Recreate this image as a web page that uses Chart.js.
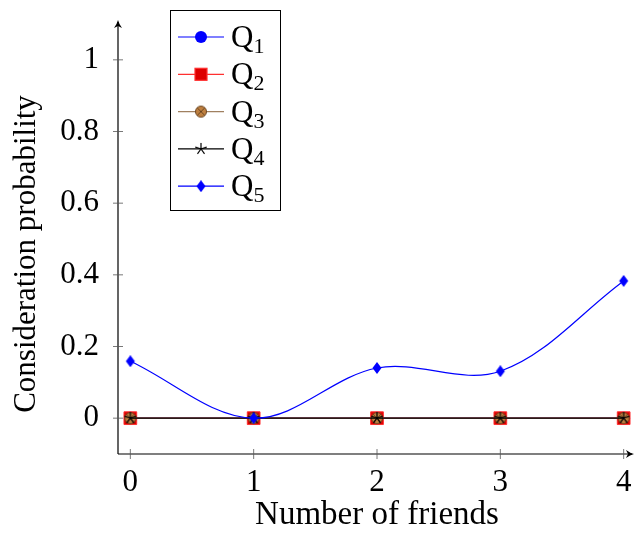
<!DOCTYPE html>
<html>
<head>
<meta charset="utf-8">
<script src="https://cdn.jsdelivr.net/npm/chart.js@4"></script>
<style>
  html, body { margin: 0; padding: 0; background: #fff; }
  #wrap { width: 636px; height: 533px; }
</style>
</head>
<body>
<div id="wrap"><canvas id="chart" width="636" height="533"></canvas></div>
<script>
const friends = [0, 1, 2, 3, 4];
const q1 = [0, 0, 0, 0, 0];
const q2 = [0, 0, 0, 0, 0];
const q3 = [0, 0, 0, 0, 0];
const q4 = [0, 0, 0, 0, 0];
const q5 = [0.159, 0, 0.14, 0.131, 0.383];
const yTicks = [0, 0.2, 0.4, 0.6, 0.8, 1];
const xTitle = "Number of friends";
const yTitle = "Consideration probability";

const FONT = "'Liberation Serif', serif";
const brown = "#bf8040";

function marker(size, draw) {
  const c = document.createElement("canvas");
  c.width = size;
  c.height = size;
  draw(c.getContext("2d"), size);
  return c;
}

const circleX = marker(14, (ctx, s) => {
  const r = 5.5;
  ctx.fillStyle = brown;
  ctx.strokeStyle = "#6b4520";
  ctx.lineWidth = 1;
  ctx.beginPath();
  ctx.arc(s / 2, s / 2, r, 0, Math.PI * 2);
  ctx.fill();
  ctx.stroke();
  const d = r * Math.SQRT1_2;
  ctx.beginPath();
  ctx.moveTo(s / 2 - d, s / 2 - d);
  ctx.lineTo(s / 2 + d, s / 2 + d);
  ctx.moveTo(s / 2 + d, s / 2 - d);
  ctx.lineTo(s / 2 - d, s / 2 + d);
  ctx.stroke();
});

const star = marker(14, (ctx, s) => {
  ctx.strokeStyle = "#000";
  ctx.lineWidth = 1.2;
  ctx.beginPath();
  for (let i = 0; i < 5; i++) {
    const a = -Math.PI / 2 + (i * 2 * Math.PI) / 5;
    ctx.moveTo(s / 2, s / 2);
    ctx.lineTo(s / 2 + 6 * Math.cos(a), s / 2 + 6 * Math.sin(a));
  }
  ctx.stroke();
});

const diamond = marker(12, (ctx, s) => {
  ctx.fillStyle = "#0000ff";
  ctx.beginPath();
  ctx.moveTo(s / 2, 0);
  ctx.lineTo(s / 2 + 4.5, s / 2);
  ctx.lineTo(s / 2, s);
  ctx.lineTo(s / 2 - 4.5, s / 2);
  ctx.closePath();
  ctx.fill();
});

const datasets = [
  { label: "Q", sub: "1", data: q1, borderColor: "#0000ff", backgroundColor: "#0000ff", pointStyle: "circle", pointRadius: 6 },
  { label: "Q", sub: "2", data: q2, borderColor: "#ff3030", backgroundColor: "#dd0000", pointStyle: "rect", pointRadius: 9 },
  { label: "Q", sub: "3", data: q3, borderColor: "#a08060", backgroundColor: brown, pointStyle: circleX, pointRadius: 7 },
  { label: "Q", sub: "4", data: q4, borderColor: "#000000", backgroundColor: "#000000", pointStyle: star, pointRadius: 7 },
  { label: "Q", sub: "5", data: q5, borderColor: "#0000ff", backgroundColor: "#0000ff", pointStyle: diamond, pointRadius: 6, tension: 0.35 },
].map((d, i) => ({
  ...d,
  order: 5 - i,
  data: d.data.map((v, k) => ({ x: friends[k], y: v })),
  borderWidth: 1.2,
  pointBorderWidth: 1,
  pointBorderColor: d.borderColor,
  fill: false,
}));

function arrow(ctx, x, y, dir) {
  ctx.save();
  ctx.translate(x, y);
  ctx.rotate(dir);
  ctx.beginPath();
  ctx.moveTo(0, 0);
  ctx.quadraticCurveTo(-4, 1, -8, 4);
  ctx.lineTo(-6, 0);
  ctx.lineTo(-8, -4);
  ctx.quadraticCurveTo(-4, -1, 0, 0);
  ctx.fill();
  ctx.restore();
}

const axesPlugin = {
  id: "axes",
  afterDraw(chart) {
    const { ctx, chartArea: a, scales } = chart;
    const x0 = a.left, y0 = a.bottom;
    ctx.save();
    ctx.strokeStyle = "#000";
    ctx.fillStyle = "#000";
    ctx.lineWidth = 1.2;
    ctx.beginPath();
    ctx.moveTo(x0, y0);
    ctx.lineTo(x0, a.top - 2);
    ctx.moveTo(x0, y0);
    ctx.lineTo(a.right - 4, y0);
    ctx.stroke();
    arrow(ctx, x0, a.top - 4, -Math.PI / 2);
    arrow(ctx, a.right - 2, y0, 0);
    ctx.lineWidth = 0.8;
    ctx.strokeStyle = "#555";
    ctx.beginPath();
    yTicks.forEach((t) => {
      const py = scales.y.getPixelForValue(t);
      ctx.moveTo(x0 - 5, py);
      ctx.lineTo(x0 + 5, py);
    });
    friends.forEach((t) => {
      const px = scales.x.getPixelForValue(t);
      ctx.moveTo(px, y0 - 5);
      ctx.lineTo(px, y0 + 5);
    });
    ctx.stroke();

    // axis titles
    ctx.fillStyle = "#000";
    ctx.textAlign = "center";
    ctx.textBaseline = "alphabetic";
    ctx.font = "33px " + FONT;
    ctx.fillText(xTitle, (a.left + a.right) / 2, 524);
    ctx.save();
    ctx.translate(35, 254);
    ctx.rotate(-Math.PI / 2);
    ctx.font = "31px " + FONT;
    ctx.fillText(yTitle, 0, 0);
    ctx.restore();
    ctx.restore();
  },
};

const legendPlugin = {
  id: "texLegend",
  afterDraw(chart) {
    const { ctx } = chart;
    const bx = 170, by = 10, bw = 110, bh = 200;
    const items = [...chart.data.datasets].sort((p, q) => q.order - p.order);
    ctx.save();
    ctx.fillStyle = "#fff";
    ctx.fillRect(bx, by, bw, bh);
    ctx.strokeStyle = "#000";
    ctx.lineWidth = 1;
    ctx.strokeRect(bx + 0.5, by + 0.5, bw, bh);
    items.forEach((ds, i) => {
      const cy = by + 27 + i * 37.3;
      ctx.strokeStyle = ds.borderColor;
      ctx.lineWidth = 1.2;
      ctx.beginPath();
      ctx.moveTo(bx + 8, cy);
      ctx.lineTo(bx + 54, cy);
      ctx.stroke();
      const px = bx + 31;
      const st = ds.pointStyle;
      if (st instanceof HTMLCanvasElement) {
        ctx.drawImage(st, px - st.width / 2, cy - st.height / 2);
      } else if (st === "rect") {
        ctx.fillStyle = ds.backgroundColor;
        ctx.fillRect(px - 6, cy - 6, 12, 12);
        ctx.strokeStyle = ds.borderColor;
        ctx.strokeRect(px - 6, cy - 6, 12, 12);
      } else {
        ctx.fillStyle = ds.backgroundColor;
        ctx.beginPath();
        ctx.arc(px, cy, 6, 0, Math.PI * 2);
        ctx.fill();
      }
      ctx.fillStyle = "#000";
      ctx.textBaseline = "alphabetic";
      ctx.font = "31px " + FONT;
      ctx.fillText(ds.label, bx + 61, cy + 10);
      const w = ctx.measureText(ds.label).width;
      ctx.font = "22px " + FONT;
      ctx.fillText(ds.sub, bx + 61 + w, cy + 16);
    });
    ctx.restore();
  },
};

new Chart(document.getElementById("chart"), {
  type: "line",
  data: { datasets },
  options: {
    responsive: false,
    animation: false,
    events: [],
    layout: { autoPadding: false, padding: { top: 24, right: 0, bottom: 0, left: 0 } },
    plugins: { legend: { display: false }, tooltip: { enabled: false } },
    scales: {
      x: {
        type: "linear",
        min: -0.1,
        max: 4.1,
        afterBuildTicks: (s) => { s.ticks = friends.map((v) => ({ value: v })); },
        afterFit: (s) => { s.height = 79; s.paddingLeft = 0; s.paddingRight = 0; },
        grid: { display: false, drawTicks: false },
        border: { display: false },
        ticks: { color: "#000", font: { family: FONT, size: 31 }, padding: 10 },
      },
      y: {
        type: "linear",
        min: -0.1,
        max: 1.1,
        afterBuildTicks: (s) => { s.ticks = yTicks.map((v) => ({ value: v })); },
        afterFit: (s) => { s.width = 118; s.paddingTop = 0; s.paddingBottom = 0; },
        grid: { display: false, drawTicks: false },
        border: { display: false },
        ticks: { color: "#000", font: { family: FONT, size: 31 }, padding: 19, callback: (v) => String(v) },
      },
    },
  },
  plugins: [axesPlugin, legendPlugin],
});
</script>
</body>
</html>
